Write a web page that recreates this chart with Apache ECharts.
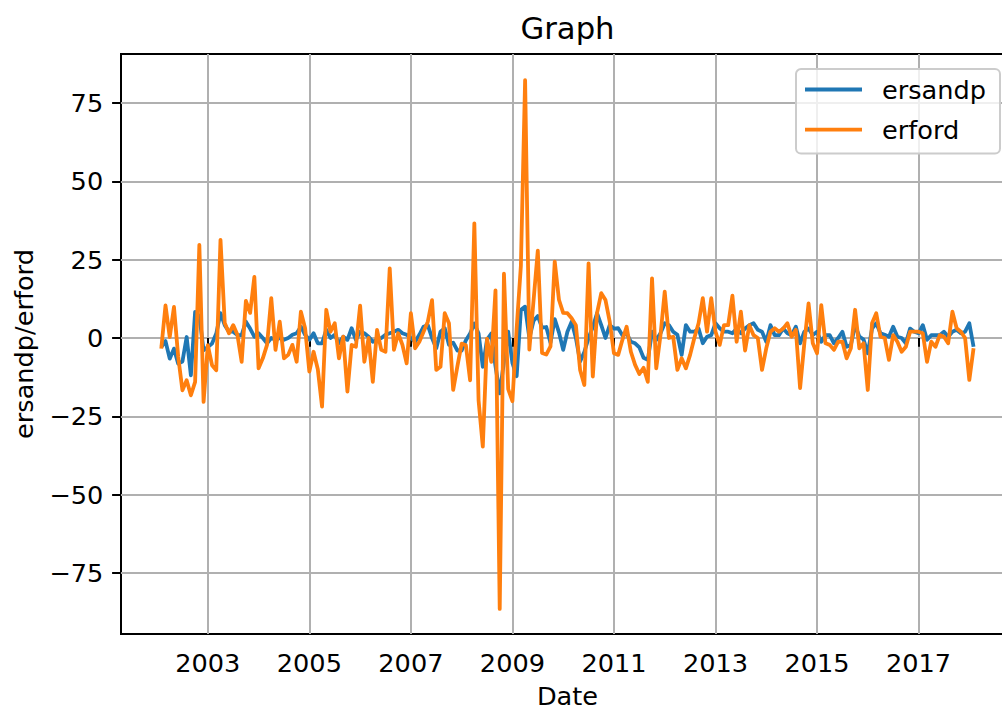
<!DOCTYPE html>
<html>
<head>
<meta charset="utf-8">
<script src="https://cdn.jsdelivr.net/npm/echarts@6/dist/echarts.min.js"></script>
<style>html,body{margin:0;padding:0;background:#fff}#c{width:1002px;height:712px}</style>
</head>
<body>
<div id="c"></div>
<script>
// monthly observations, first one is February 2002
const startYear = 2002;
const startMonth = 2;

const ersandp = [
  -2.9, -1.0, -6.6, -3.4, -8.2, -7.5, 0.3, -11.9, 8.3, 7.0, -3.9,
  -2.9, -1.8, 1.4, 7.9, 4.1, 2.0, 2.0, 0.9, 0.9, 5.2, 3.0, 0.4,
  1.5, 0.0, -1.7, 0.0, -0.6, 0.0, -0.6, 0.0, 1.0, 1.5, 3.6, 1.0,
  -0.6, 1.5, -1.7, -1.7, 2.6, 0.0, 1.0, -1.7, 0.4, -0.6, 3.1, -0.6,
  2.0, 1.5, 0.4, -1.2, -0.6, 0.0, 1.0, 1.5, 2.0, 2.6, 1.5, 1.0,
  0.0, -1.2, 1.0, 3.6, 4.1, 0.0, -3.3, 2.0, 3.1, -2.2, -1.5, -4.0,
  -4.0, -0.7, 1.4, 4.6, 1.4, -9.2, -0.5, 1.4, -9.0, -17.7, -7.5, 2.0,
  -8.0, -12.2, 9.0, 10.0, 0.0, 5.5, 7.0, 3.3, 3.5, -1.5, 6.0, 1.8,
  -3.8, 2.0, 5.2, 0.0, -7.5, -4.5, 0.0, 3.5, 7.9, 4.1, 0.0, 4.1,
  3.0, 3.1, 0.9, 1.5, -1.2, -1.7, -3.0, -6.3, -7.0, 2.0, -0.6, 1.5,
  4.7, 4.1, 2.0, 1.0, -5.4, 4.1, 2.0, 2.0, 3.0, -1.7, 0.4, 0.9,
  4.7, 3.1, 2.0, 2.0, 1.5, 3.0, 1.5, 3.0, 4.1, 4.7, 2.6, 2.0,
  -1.2, 4.1, 0.9, 0.9, 3.0, 1.5, 0.9, 3.6, -1.7, 2.0, 3.0, 0.9,
  2.0, -1.2, 0.9, 0.9, -1.7, 0.0, 2.0, -2.8, -2.2, 4.0, 0.5, -0.5,
  -4.9, 3.0, 4.7, 1.5, 1.0, 0.4, 3.6, 0.4, 0.0, -1.7, 3.0, 2.0,
  1.5, 4.1, -0.6, 0.9, 0.9, 0.9, 2.0, 0.4, 2.0, 2.6, 1.5, 2.0,
  4.7, -2.8
];

const erford = [
  -3.4, 10.4, 0.3, 9.9, -6.0, -16.7, -13.5, -18.3, -14.0, 29.7, -20.4,
  -2.3, -8.7, -10.3, 31.3, 4.8, 1.5, 4.1, 1.0, -7.6, 11.8, 8.0, 19.5,
  -9.7, -6.5, -2.2, 12.7, -3.8, 5.2, -6.5, -5.4, -2.2, -7.6, 8.4, 3.1,
  -10.7, -4.4, -10.0, -21.9, 9.0, 2.0, 4.7, -6.5, 0.4, -17.1, -2.2, -2.8,
  10.3, -7.6, 0.0, -14.0, 2.6, -3.8, -4.4, 22.2, -3.8, 1.5, -2.2, -8.1,
  7.9, -3.3, -1.2, 2.0, 5.2, 12.1, -10.2, -9.2, 7.9, 4.7, -16.6, -9.0,
  -1.8, -2.3, -13.5, 36.6, -19.9, -34.7, -0.2, -7.6, 15.2, -86.5, 20.5, -16.3,
  -20.2, 3.0, 23.0, 82.3, -3.7, 12.0, 27.9, -4.8, -5.3, -2.7, 24.4, 12.2,
  8.0, 7.9, 6.3, 4.1, -10.2, -15.0, 23.8, -12.3, 7.9, 14.3, 12.1, 5.2,
  -4.9, -5.4, -0.6, 3.6, -4.4, -8.6, -11.5, -9.5, -14.0, 19.0, -9.7, 0.9,
  14.8, 0.0, 0.4, -10.2, -6.5, -9.7, -5.4, 0.0, 4.7, 12.7, 2.0, 12.7,
  2.0, -2.2, 4.1, 4.1, 13.5, -1.2, 8.4, -4.0, 4.1, 0.9, 0.0, -10.2,
  -3.3, 2.0, 3.1, 2.0, 3.0, 4.7, 0.4, 2.6, -16.0, -1.7, 11.0, -1.7,
  -4.9, 10.5, -1.7, -2.2, -3.8, -1.2, -1.2, -6.5, -3.3, 9.0, -3.3, -1.7,
  -16.6, 4.7, 7.9, 0.4, 0.0, -7.0, 0.9, -1.2, -4.4, -2.8, 2.0, 2.0,
  2.0, 1.5, -7.6, -1.2, -2.8, 0.9, 0.4, -1.7, 8.4, 3.1, 2.0, 0.0,
  -13.4, -3.3
];

const xTickYears = [2003, 2005, 2007, 2009, 2011, 2013, 2015, 2017];
const yTicks = [-75, -50, -25, 0, 25, 50, 75];
const seriesNames = ['ersandp', 'erford'];

// decimal-year position of each observation
const dates = ersandp.map((_, i) => startYear + (startMonth - 1 + i) / 12);

const FONT = 'DejaVu Sans';
const chart = echarts.init(document.getElementById('c'), null, {renderer: 'svg', width: 1002, height: 712});

const minus = v => (v < 0 ? '\u2212' + Math.abs(v) : String(v));

chart.setOption({
  animation: false,
  backgroundColor: '#ffffff',
  title: {
    text: 'Graph', left: 567.5, top: 12.7, textAlign: 'center', padding: 0,
    textStyle: {fontFamily: FONT, fontSize: 30.7, fontWeight: 'normal', color: '#000'}
  },
  legend: {
    data: seriesNames,
    orient: 'vertical', left: 796, top: 69,
    padding: [7.5, 14, 11, 9],
    itemWidth: 57, itemHeight: 3.8, itemGap: 14.1,
    icon: 'rect',
    selectedMode: false,
    backgroundColor: 'rgba(255,255,255,0.8)',
    borderColor: '#cccccc', borderWidth: 2, borderRadius: 5,
    textStyle: {fontFamily: FONT, fontSize: 25.6, color: '#000', padding: [0, 0, 0, 15]}
  },
  grid: {
    left: 121, top: 54, right: -12, bottom: 78,
    show: true, borderColor: '#000', borderWidth: 2,
    containLabel: false, outerBoundsMode: 'none'
  },
  xAxis: {
    type: 'value', min: 2001.29, max: 2018.88,
    name: 'Date', nameLocation: 'middle', nameGap: 53,
    nameTextStyle: {fontFamily: FONT, fontSize: 25.6, lineHeight: 18, color: '#000'},
    axisLine: {show: false},
    axisTick: {show: true, customValues: xTickYears, length: 8.9, lineStyle: {color: '#000', width: 2}},
    axisLabel: {customValues: xTickYears, margin: 15.5, fontFamily: FONT, fontSize: 25.6, color: '#000', formatter: v => String(v)},
    splitLine: {show: true, lineStyle: {color: '#b0b0b0', width: 2}}
  },
  yAxis: {
    type: 'value', min: -94.5, max: 90.65,
    name: 'ersandp/erford', nameLocation: 'middle', nameGap: 84,
    nameTextStyle: {fontFamily: FONT, fontSize: 25.6, color: '#000'},
    axisLine: {show: false},
    axisTick: {show: true, customValues: yTicks, length: 8.9, lineStyle: {color: '#000', width: 2}},
    axisLabel: {customValues: yTicks, margin: 17.8, fontFamily: FONT, fontSize: 25.6, color: '#000', formatter: minus},
    splitLine: {show: true, lineStyle: {color: '#b0b0b0', width: 2}}
  },
  series: [
    {
      name: seriesNames[0], type: 'line', showSymbol: false, symbol: 'none',
      data: dates.map((d, i) => [d, ersandp[i]]),
      itemStyle: {color: '#1f77b4'},
      lineStyle: {color: '#1f77b4', width: 3.8, join: 'round'},
      emphasis: {disabled: true}, z: 2
    },
    {
      name: seriesNames[1], type: 'line', showSymbol: false, symbol: 'none',
      data: dates.map((d, i) => [d, erford[i]]),
      itemStyle: {color: '#ff7f0e'},
      lineStyle: {color: '#ff7f0e', width: 3.8, join: 'round'},
      emphasis: {disabled: true}, z: 3
    }
  ]
});
</script>
</body>
</html>
